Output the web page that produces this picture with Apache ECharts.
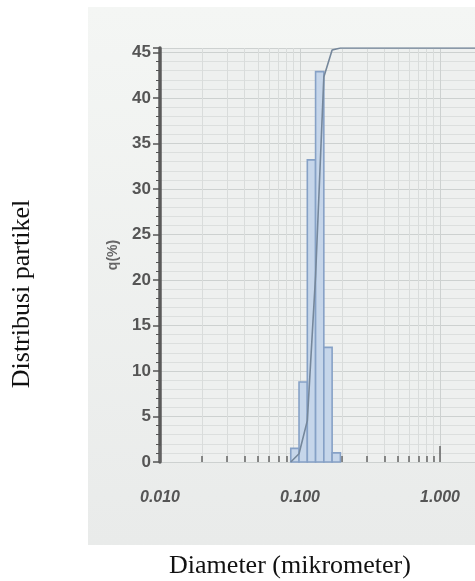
<!DOCTYPE html>
<html><head><meta charset="utf-8">
<script src="https://cdn.jsdelivr.net/npm/echarts@6/dist/echarts.min.js"></script>
<style>html,body{margin:0;padding:0;background:#fff}#c{width:475px;height:581px}</style>
</head><body><div id="c"></div>
<script>
// Histogram bins (diameter, micrometer) and frequency q (%)
const binLower = [0.0859, 0.0984, 0.1128, 0.1292, 0.1480, 0.1696];
const binUpper = [0.0984, 0.1128, 0.1292, 0.1480, 0.1696, 0.1943];
const qValues = [1.5, 8.8, 33.2, 42.9, 12.6, 1.0];
// Cumulative curve (%)
const cumDiameters = [0.0859, 0.0984, 0.1128, 0.1292, 0.1480, 0.1696, 0.1943, 10];
const cumValues = [0, 2, 10, 45, 93, 99.5, 100, 100];
// Axis labels
const yTickLabels = [0, 5, 10, 15, 20, 25, 30, 35, 40, 45];
const xTickLabels = {0.01: '0.010', 0.1: '0.100', 1: '1.000', 10: '10.000'};

const chart = echarts.init(document.getElementById('c'), null, {renderer: 'canvas'});
const labelFont = '"Liberation Sans Narrow", "Liberation Sans", sans-serif';
chart.setOption({
  animation: false,
  graphic: [
    {type: 'rect', z: -10, shape: {x: 88, y: 7, width: 400, height: 538},
     style: {fill: new echarts.graphic.LinearGradient(0, 0, 0, 1, [
       {offset: 0, color: '#f4f6f4'}, {offset: 1, color: '#e9ebea'}])}},
    {type: 'text', x: 22, y: 294, rotation: Math.PI / 2,
     style: {text: 'Distribusi partikel', font: '26px "Liberation Serif"', fill: '#111',
             textAlign: 'center', textVerticalAlign: 'middle'}},
    {type: 'text', x: 290, y: 566,
     style: {text: 'Diameter (mikrometer)', font: '26px "Liberation Serif"', fill: '#111',
             textAlign: 'center', textVerticalAlign: 'middle'}}
  ],
  grid: {left: 160, top: 48, width: 420, height: 414, show: true,
         backgroundColor: '#eef0ef', borderWidth: 0, containLabel: false,
         outerBoundsMode: 'none'},
  xAxis: {
    type: 'log', logBase: 10, min: 0.01, max: 10, offset: 16,
    axisLine: {show: false},
    axisTick: {show: true, inside: true, length: 16, lineStyle: {color: '#666', width: 1.5}},
    minorTick: {show: true, splitNumber: 9, length: 6, lineStyle: {color: '#666', width: 1.5}},
    splitLine: {show: true, lineStyle: {color: '#cdd1d0', width: 1}},
    minorSplitLine: {show: true, lineStyle: {color: '#d9dcdb', width: 1}},
    axisLabel: {margin: 12, color: '#555', fontSize: 16, fontStyle: 'italic', fontWeight: 'bold',
                fontFamily: labelFont, formatter: v => xTickLabels[v] || ''}
  },
  yAxis: [{
    type: 'value', min: 0, max: 45.5, interval: 5,
    name: 'q(%)', nameLocation: 'middle', nameRotate: 90, nameGap: 40,
    nameTextStyle: {color: '#666', fontSize: 14, fontWeight: 'bold', fontFamily: labelFont},
    axisLine: {show: true, lineStyle: {color: '#5a5a5a', width: 3.5}},
    axisTick: {show: true, length: 7, lineStyle: {color: '#555', width: 1.5}},
    minorTick: {show: true, splitNumber: 5, length: 4, lineStyle: {color: '#555', width: 1}},
    splitLine: {show: true, lineStyle: {color: '#cdd1d0', width: 1}},
    minorSplitLine: {show: true, lineStyle: {color: '#dcdfde', width: 1}},
    axisLabel: {margin: 9, color: '#555', fontSize: 17, fontWeight: 'bold', fontFamily: labelFont,
                formatter: v => yTickLabels.indexOf(v) >= 0 ? String(v) : ''}
  }, {
    type: 'value', min: 0, max: 100, show: false, splitLine: {show: false}
  }],
  series: [{
    type: 'custom', name: 'q',
    data: binLower.map((lo, i) => [lo, binUpper[i], qValues[i]]),
    encode: {x: [0, 1], y: 2},
    renderItem: function (params, api) {
      const p0 = api.coord([api.value(0), 0]);
      const p1 = api.coord([api.value(1), api.value(2)]);
      return {type: 'rect',
        shape: {x: p0[0], y: p1[1], width: p1[0] - p0[0], height: p0[1] - p1[1]},
        style: {fill: '#c6d6ea', stroke: '#86a1c6', lineWidth: 1.6}};
    },
    z: 3
  }, {
    type: 'line', name: 'cumulative', yAxisIndex: 1,
    data: cumDiameters.map((d, i) => [d, cumValues[i]]),
    symbol: 'none', lineStyle: {color: '#75879b', width: 1.6}, z: 4
  }]
});
</script></body></html>
